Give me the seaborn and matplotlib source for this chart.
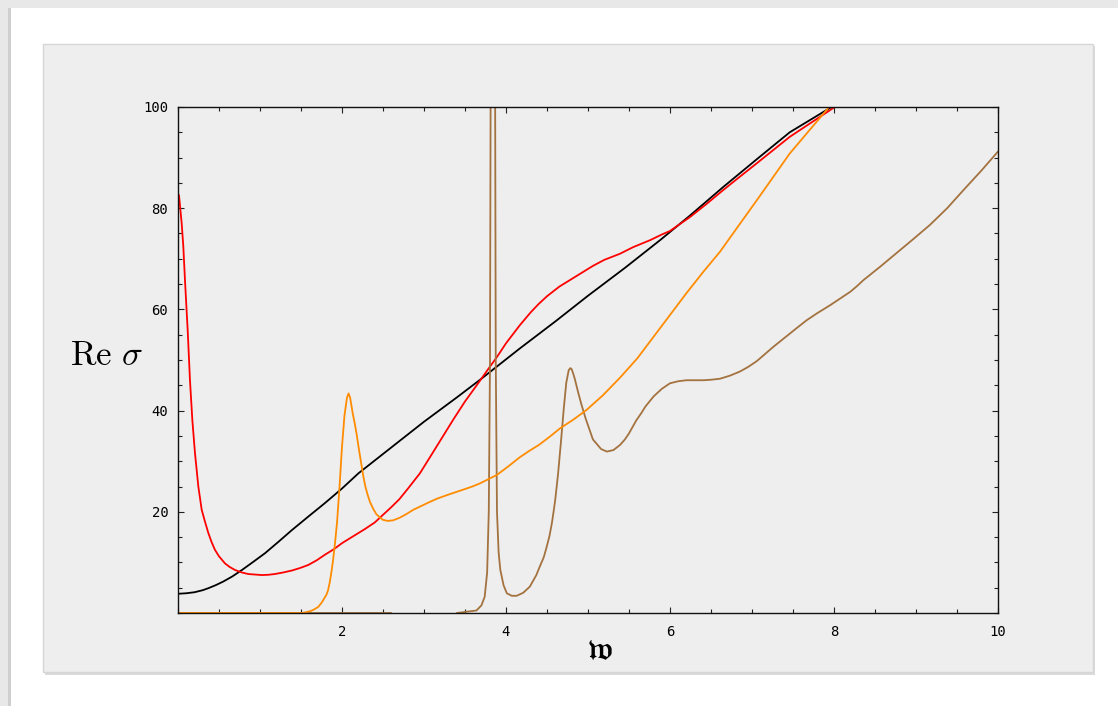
import numpy as np
import pandas as pd
import matplotlib
matplotlib.use("Agg")
import matplotlib.pyplot as plt
from matplotlib.patches import Rectangle
from matplotlib.ticker import MultipleLocator, FixedLocator
import seaborn as sns

# ---------------- data ----------------
black_w = [0.0, 0.1, 0.2, 0.3, 0.37, 0.46, 0.55, 0.66, 0.78, 0.9, 1.06, 1.22, 1.39, 1.6,
           1.79, 2.0, 2.2, 2.6, 3.0, 3.4, 3.7, 4.17, 4.6, 5.0, 5.45, 5.88, 6.24, 6.65,
           7.06, 7.46, 7.97, 8.05]
black_v = [3.8, 3.9, 4.1, 4.5, 4.9, 5.5, 6.2, 7.2, 8.5, 9.9, 11.8, 14.0, 16.4, 19.2,
           21.7, 24.6, 27.6, 32.7, 37.8, 42.6, 46.3, 52.3, 57.6, 62.7, 68.2, 73.7, 78.5, 84.2,
           89.7, 95.0, 100.0, 101.0]

red_w = [0.012, 0.045, 0.065, 0.085, 0.118, 0.146, 0.175, 0.207, 0.248, 0.289, 0.33, 0.37,
         0.41, 0.45, 0.5, 0.573, 0.63, 0.695, 0.78, 0.857, 0.94, 1.02, 1.1, 1.18, 1.28,
         1.39, 1.49, 1.59, 1.69, 1.79, 1.9, 2.0, 2.08, 2.16, 2.28, 2.40, 2.5, 2.6, 2.7,
         2.8, 2.95, 3.1, 3.36, 3.5, 3.70, 3.8, 3.89, 4.0, 4.17, 4.3, 4.4, 4.5, 4.65, 4.78,
         4.9, 5.06, 5.2, 5.39, 5.55, 5.76, 5.9, 6.0, 6.24, 6.45, 6.65, 6.85, 7.06, 7.26,
         7.46, 7.73, 8.01, 8.06]
red_v = [82.6, 77.0, 72.4, 65.8, 55.9, 46.0, 38.1, 31.6, 25.0, 20.4, 18.0, 15.8,
         14.0, 12.5, 11.2, 9.8, 9.1, 8.5, 8.0, 7.7, 7.6, 7.5, 7.55, 7.7, 8.0,
         8.4, 8.9, 9.5, 10.4, 11.5, 12.6, 13.8, 14.6, 15.4, 16.6, 17.9, 19.4, 20.9, 22.5,
         24.5, 27.6, 31.5, 38.3, 41.8, 46.3, 48.6, 50.6, 53.3, 56.9, 59.4, 61.1, 62.6, 64.5,
         65.8, 67.0, 68.6, 69.8, 71.0, 72.3, 73.7, 74.8, 75.5, 78.2, 80.9, 83.6, 86.2, 88.9,
         91.5, 94.1, 97.0, 100.0, 100.8]

orange_w = [0.0, 1.4, 1.51, 1.56, 1.62, 1.66, 1.71, 1.75, 1.78, 1.81, 1.83, 1.85, 1.87,
            1.89, 1.91, 1.925, 1.94, 1.97, 2.0, 2.03, 2.06, 2.08, 2.10, 2.13, 2.155, 2.18,
            2.2, 2.22, 2.24, 2.26, 2.285, 2.31, 2.34, 2.38, 2.42, 2.47, 2.5, 2.56, 2.62,
            2.7, 2.78, 2.87, 2.96, 3.05, 3.16, 3.28, 3.39, 3.5, 3.59, 3.68, 3.78, 3.89,
            4.03, 4.17, 4.28, 4.4, 4.53, 4.66, 4.82, 4.98, 5.18, 5.39, 5.6, 5.80, 6.0,
            6.2, 6.4, 6.61, 6.83, 7.06, 7.26, 7.46, 7.7, 7.93, 8.0]
orange_v = [0.0, 0.0, 0.0, 0.15, 0.4, 0.7, 1.2, 2.0, 2.8, 3.6, 4.5, 6.0, 8.0,
            10.3, 13.1, 15.5, 18.0, 25.0, 32.9, 39.0, 42.5, 43.4, 42.5, 39.5, 37.5, 35.2,
            33.0, 31.0, 29.0, 27.0, 25.0, 23.5, 22.0, 20.6, 19.5, 18.8, 18.4, 18.2, 18.3,
            18.8, 19.5, 20.4, 21.1, 21.8, 22.6, 23.3, 23.9, 24.5, 25.0, 25.6, 26.4, 27.3,
            29.0, 30.8, 32.0, 33.2, 34.8, 36.5, 38.2, 40.1, 43.0, 46.5, 50.3, 54.6, 58.9,
            63.2, 67.3, 71.4, 76.4, 81.6, 86.2, 90.8, 95.4, 99.8, 101.3]

brown_w = [0.0, 2.6, 2.65, 3.35, 3.4, 3.64, 3.70, 3.74, 3.77, 3.79, 3.805, 3.815, 3.84,
           3.865, 3.875, 3.89, 3.91, 3.93, 3.97, 4.01, 4.07, 4.13, 4.21, 4.29, 4.37, 4.41,
           4.46, 4.49, 4.53, 4.56, 4.58, 4.60, 4.635, 4.67, 4.705, 4.735, 4.765, 4.785, 4.80,
           4.82, 4.84, 4.88, 4.92, 4.97, 5.06, 5.16, 5.23, 5.31, 5.39, 5.45, 5.5, 5.59,
           5.65, 5.70, 5.80, 5.9, 6.0, 6.1, 6.20, 6.3, 6.41, 6.5, 6.61, 6.73, 6.85, 6.95,
           7.06, 7.16, 7.26, 7.36, 7.46, 7.56, 7.67, 7.8, 7.95, 8.08, 8.20, 8.28, 8.36,
           8.56, 8.76, 8.96, 9.17, 9.38, 9.58, 9.79, 10.0]
brown_v = [0.0, 0.0, -1.0, -1.0, 0.0, 0.5, 1.5, 3.2, 8.0, 20.0, 50.0, 120.0, 200.0,
           120.0, 50.0, 20.0, 12.0, 8.6, 5.5, 3.9, 3.4, 3.4, 4.0, 5.2, 7.5, 9.1,
           11.0, 12.7, 15.2, 17.8, 20.0, 22.3, 27.5, 33.8, 40.5, 45.5, 48.0, 48.4, 48.2,
           47.3, 46.2, 43.6, 41.2, 38.5, 34.3, 32.4, 31.9, 32.2, 33.2, 34.3, 35.5, 38.1,
           39.5, 40.8, 42.8, 44.3, 45.4, 45.8, 46.0, 46.0, 46.0, 46.1, 46.3, 46.9, 47.7, 48.6,
           49.8, 51.2, 52.6, 53.9, 55.2, 56.5, 57.9, 59.3, 60.8, 62.2, 63.5, 64.6, 65.8,
           68.4, 71.1, 73.8, 76.7, 80.0, 83.6, 87.3, 91.2]

x_ticks = [2, 4, 6, 8, 10]
y_ticks = [20, 40, 60, 80, 100]

series = [
    ("black", black_w, black_v, "#000000"),
    ("red", red_w, red_v, "#FF0000"),
    ("brown", brown_w, brown_v, "#A3723F"),
    ("orange", orange_w, orange_v, "#FF8C00"),
]
for name, a, b, _ in series:
    assert len(a) == len(b), (name, len(a), len(b))

# ---------------- figure ----------------
sns.set_theme(style="ticks")
plt.rcParams["font.family"] = ["DejaVu Sans"]

W, H = 1118, 706
fig = plt.figure(figsize=(W / 100, H / 100), dpi=100, facecolor="#E8E8E8")

def px_rect(x0, y0, x1, y1, **kw):
    r = Rectangle((x0 / W, 1 - y1 / H), (x1 - x0) / W, (y1 - y0) / H,
                  transform=fig.transFigure, **kw)
    fig.patches.append(r)
    return r

# page and shadow edge
px_rect(10, 8, 1118, 706, facecolor="white", edgecolor="none", zorder=-10)
px_rect(8, 8, 11, 706, facecolor="#CFCFCF", edgecolor="none", zorder=-9)
# panel (with slight shadow)
px_rect(45, 46, 1095, 675, facecolor="#DADADA", edgecolor="none", zorder=-8)
px_rect(43, 44, 1093, 672, facecolor="#EEEEEE", edgecolor="#D6D6D6", linewidth=1.0, zorder=-7)

ax = fig.add_axes([178 / W, 1 - 613 / H, (998 - 178) / W, (613 - 107) / H])
ax.set_facecolor("none")

for name, wv, vv, col in series:
    df = pd.DataFrame({"w": wv, "v": vv})
    sns.lineplot(data=df, x="w", y="v", ax=ax, color=col, linewidth=1.3,
                 sort=False, estimator=None)

ax.set_xlim(0, 10)
ax.set_ylim(0, 100)
ax.xaxis.set_major_locator(FixedLocator(x_ticks))
ax.yaxis.set_major_locator(FixedLocator(y_ticks))
ax.xaxis.set_minor_locator(MultipleLocator(0.5))
ax.yaxis.set_minor_locator(MultipleLocator(5))
ax.tick_params(which="both", direction="in", top=True, right=True, color="#222222",
               width=0.8)
ax.tick_params(which="major", length=4.5)
ax.tick_params(which="minor", length=3)
ax.tick_params(axis="x", which="major", pad=9)
ax.tick_params(axis="y", which="major", pad=7)
for lab in ax.get_xticklabels() + ax.get_yticklabels():
    lab.set_fontfamily("DejaVu Sans Mono")
    lab.set_fontsize(10)
    lab.set_color("#000000")
for sp in ax.spines.values():
    sp.set_color("#111111")
    sp.set_linewidth(1.0)
    sp.set_visible(True)

ax.set_xlabel(r"$\mathfrak{w}$", fontsize=24, math_fontfamily="stix", color="black")
ax.xaxis.set_label_coords(0.515, -0.072)
ax.xaxis.label.set_verticalalignment("center")
ax.set_ylabel(r"$\mathrm{Re}\ \sigma$", fontsize=25, rotation=0,
              math_fontfamily="cm", color="black")
ax.yaxis.set_label_coords(-0.087, 0.51)
ax.yaxis.label.set_verticalalignment("center")
ax.yaxis.label.set_horizontalalignment("center")

fig.savefig("out.png", dpi=100, facecolor=fig.get_facecolor())
